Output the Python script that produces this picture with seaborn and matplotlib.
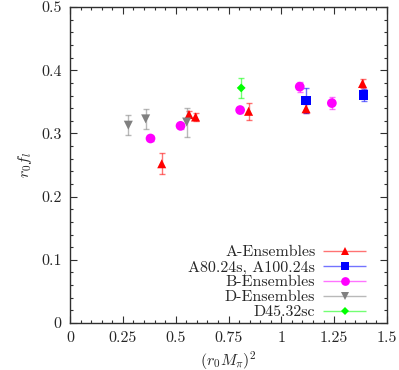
import numpy as np
import matplotlib
matplotlib.use("Agg")
import matplotlib.pyplot as plt
from matplotlib.legend_handler import HandlerErrorbar
import seaborn as sns

# --- DATA ---
a_x = [0.434, 0.563, 0.594, 0.845, 1.117, 1.384]
a_y = [0.252, 0.330, 0.326, 0.335, 0.339, 0.379]
a_err = [0.017, 0.005, 0.007, 0.013, 0.007, 0.007]

a24_x = [1.116, 1.389]
a24_y = [0.352, 0.361]
a24_err = [0.020, 0.010]

b_x = [0.381, 0.523, 0.805, 1.087, 1.239]
b_y = [0.292, 0.312, 0.337, 0.374, 0.348]
b_err = [0.004, 0.005, 0.004, 0.008, 0.010]

d_x = [0.276, 0.358, 0.552]
d_y = [0.313, 0.323, 0.318]
d_err = [0.016, 0.016, 0.023]

d45_x = [0.81]
d45_y = [0.372]
d45_err = [0.016]

series = [
    ("A-Ensembles", a_x, a_y, a_err, "#ff0000", "^", 6.5),
    ("A80.24s, A100.24s", a24_x, a24_y, a24_err, "#0000ff", "s", 7),
    ("B-Ensembles", b_x, b_y, b_err, "#ff00ff", "o", 7),
    ("D-Ensembles", d_x, d_y, d_err, "#808080", "v", 6.5),
    ("D45.32sc", d45_x, d45_y, d45_err, "#00ff00", "D", 4.5),
]

sns.set_style("ticks")
plt.rcParams["font.family"] = ["cmr10", "DejaVu Serif"]
plt.rcParams["mathtext.fontset"] = "cm"
plt.rcParams["axes.formatter.use_mathtext"] = True
plt.rcParams["font.size"] = 11.5

fig = plt.figure(figsize=(3.99, 3.70), dpi=100)
ax = fig.add_axes([0.1754, 0.127, 0.7946, 0.854])

handles = []
for label, xs, ys, errs, color, marker, ms in series:
    ax.errorbar(xs, ys, yerr=errs, fmt="none", ecolor=color, alpha=0.55,
                elinewidth=1.0, capsize=2.5, capthick=1.0, zorder=2)
    sns.scatterplot(x=xs, y=ys, ax=ax, color=color, marker=marker,
                    s=ms ** 2, edgecolor="none", linewidth=0, zorder=3,
                    legend=False)
    # legend proxy: horizontal bar with caps, gnuplot style
    h = ax.errorbar([np.nan], [np.nan], xerr=[1], fmt=marker, color=color,
                    markersize=ms * 0.9, markeredgewidth=0, ecolor=color,
                    elinewidth=1.0, capsize=2.5)
    h[2][0].set_alpha(0.55)
    handles.append(h)

ax.set_xlim(0, 1.5)
ax.set_ylim(0, 0.5)
ax.set_xticks(np.arange(0, 1.51, 0.25))
ax.set_xticklabels(["0", "0.25", "0.5", "0.75", "1", "1.25", "1.5"])
ax.set_xticks(np.arange(0, 1.51, 0.05), minor=True)
ax.set_yticks(np.arange(0, 0.51, 0.1))
ax.set_yticklabels(["0", "0.1", "0.2", "0.3", "0.4", "0.5"])
ax.set_yticks(np.arange(0, 0.51, 0.02), minor=True)
ax.tick_params(which="both", direction="in", top=True, right=True,
               color="#303030", labelsize=11.5)
ax.tick_params(which="major", length=5, width=0.8, pad=6)
ax.tick_params(which="minor", length=2.5, width=0.8)
for sp in ax.spines.values():
    sp.set_linewidth(1.0)
    sp.set_color("#303030")

ax.set_xlabel(r"$(r_0 M_\pi)^2$", fontsize=11.5, labelpad=3)
ax.set_ylabel(r"$r_0 f_l$", fontsize=11.5, labelpad=5)

fs = 11.5
ax.legend(handles, [s[0] for s in series], loc="lower right",
          bbox_to_anchor=(0.96, -0.014), frameon=False, markerfirst=False,
          handlelength=2.7, labelspacing=0.05, handletextpad=0.5,
          fontsize=fs, numpoints=1, borderaxespad=0.1,
          handler_map={type(handles[0]): HandlerErrorbar(xerr_size=1.35)})

fig.savefig("out.png", dpi=100)
